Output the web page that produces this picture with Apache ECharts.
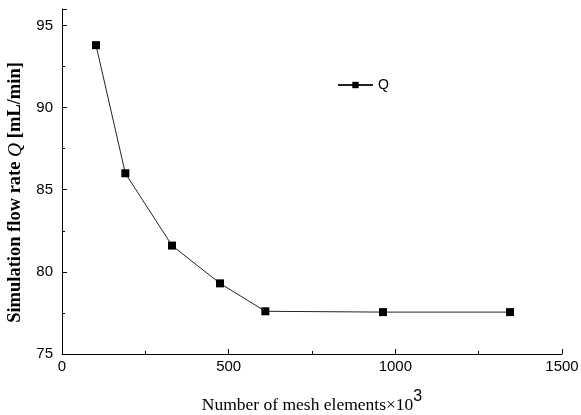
<!DOCTYPE html>
<html>
<head>
<meta charset="utf-8">
<script src="https://cdn.jsdelivr.net/npm/echarts@6/dist/echarts.min.js"></script>
<style>
  html, body { margin: 0; padding: 0; background: #fff; }
  #chart { width: 581px; height: 415px; }
</style>
</head>
<body>
<div id="chart"></div>
<script>
// mesh elements (x10^3) vs simulated flow rate
const meshElements = [102, 190, 330, 474, 610, 963, 1344]
const flowRate = [93.8, 86.0, 81.6, 79.3, 77.6, 77.55, 77.55]
const seriesName = 'Q'

const chart = echarts.init(document.getElementById('chart'))

const data = meshElements.map((x, i) => [x, flowRate[i]])

const axisCommon = {
  axisLine: { show: true, lineStyle: { color: '#000', width: 1 } },
  axisTick: { show: true, inside: true, length: 5, lineStyle: { color: '#000' } },
  minorTick: { show: true, splitNumber: 2, length: 3, lineStyle: { color: '#000' } },
  splitLine: { show: false },
  axisLabel: { color: '#000', fontFamily: 'Liberation Sans, Arial', fontSize: 15, formatter: (v) => String(v) },
}

chart.setOption({
  animation: false,
  grid: { left: 62, right: 19, top: 9, bottom: 61, outerBoundsMode: 'none', containLabel: false },
  legend: {
    data: [seriesName],
    left: 332,
    top: 73,
    itemWidth: 35,
    itemHeight: 8,
    itemGap: 4,
    textStyle: { fontFamily: 'Liberation Sans, Arial', fontSize: 14, color: '#000' },
  },
  xAxis: {
    type: 'value',
    min: 0,
    max: 1500,
    interval: 500,
    ...axisCommon,
    axisLabel: { ...axisCommon.axisLabel, margin: 5 },
    name: '{t|Number of mesh elements×10}{s|3}',
    nameLocation: 'middle',
    nameGap: 35,
    nameTextStyle: {
      rich: {
        t: { fontFamily: 'Liberation Serif, Times New Roman', fontSize: 17.5, color: '#000', verticalAlign: 'bottom' },
        s: { fontFamily: 'Liberation Sans, Arial', fontSize: 16, color: '#000', verticalAlign: 'top', padding: [0, 0, 9, 0] },
      },
    },
  },
  yAxis: {
    type: 'value',
    min: 75,
    max: 96,
    interval: 5,
    ...axisCommon,
    axisLabel: {
      ...axisCommon.axisLabel,
      margin: 9,
      formatter: (v) => (v % 5 === 0 && v <= 95 ? String(v) : ''),
    },
    name: '{b|Simulation flow rate }{i|Q}{b| [mL/min]}',
    nameLocation: 'middle',
    nameGap: 33,
    nameTextStyle: {
      padding: [0, 22, 0, 0],
      rich: {
        b: { fontFamily: 'Liberation Serif, Times New Roman', fontSize: 18.5, fontWeight: 'bold', color: '#000' },
        i: { fontFamily: 'Liberation Serif, Times New Roman', fontSize: 19.5, fontStyle: 'italic', color: '#000' },
      },
    },
  },
  series: [
    {
      name: seriesName,
      type: 'line',
      data: data,
      symbol: 'rect',
      symbolSize: 8,
      itemStyle: { color: '#000' },
      lineStyle: { color: '#222', width: 1 },
    },
  ],
})
</script>
</body>
</html>
